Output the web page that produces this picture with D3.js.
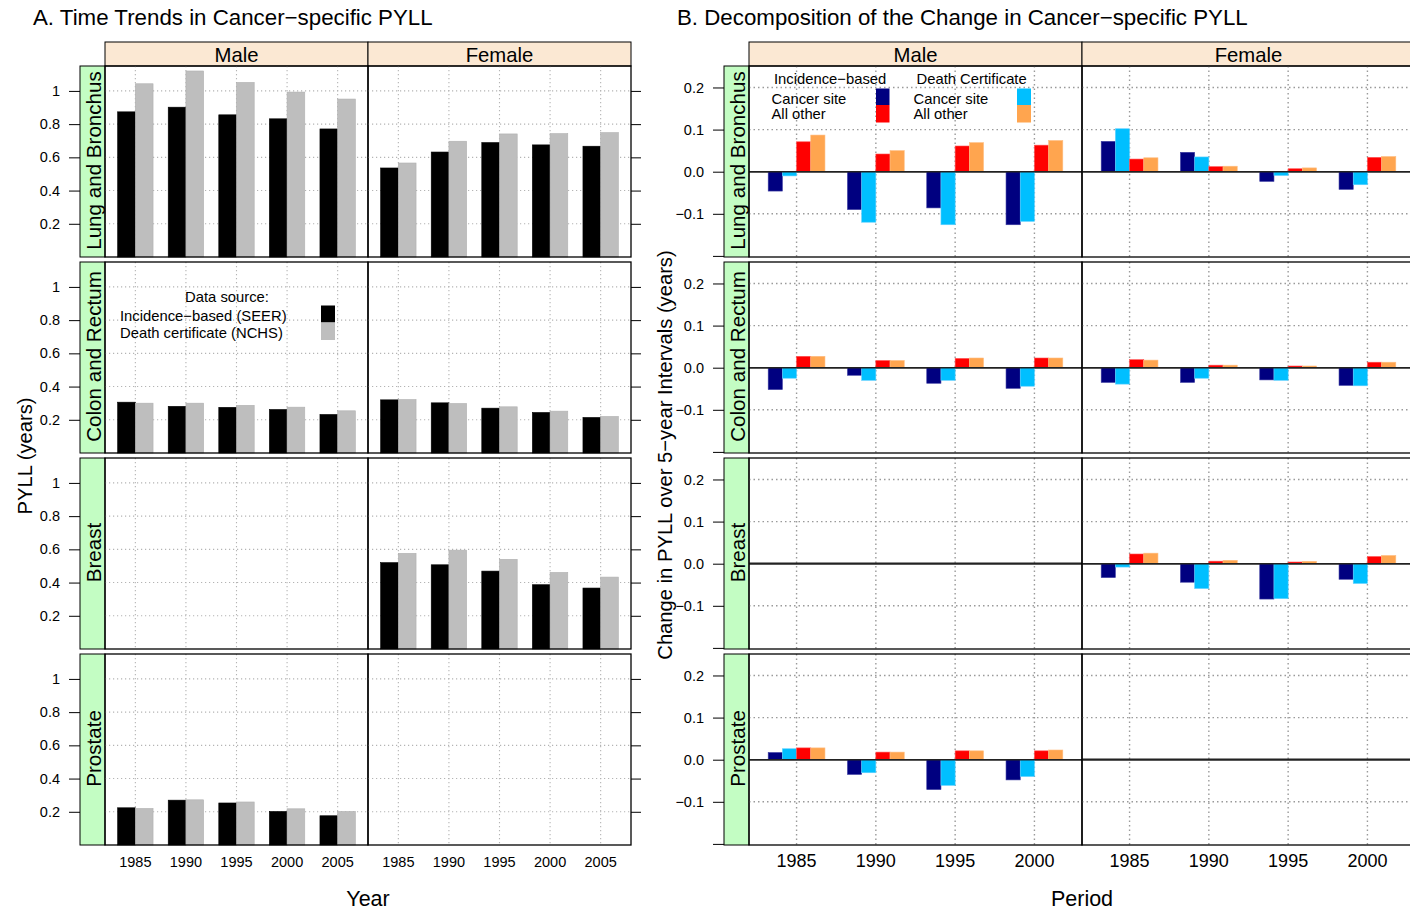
<!DOCTYPE html>
<html><head><meta charset="utf-8">
<script src="https://cdn.jsdelivr.net/npm/d3@7"></script>
<style>
html,body{margin:0;padding:0;background:#fff;}
svg{display:block;font-family:"Liberation Sans",Arial,Helvetica,sans-serif;}
</style></head>
<body><svg id="chart" width="1410" height="913"></svg>
<script>
// ---------------- DATA ----------------
const years = ["1985","1990","1995","2000","2005"];
const periods = ["1985","1990","1995","2000"];
const sites = ["Lung and Bronchus","Colon and Rectum","Breast","Prostate"];
const sexes = ["Male","Female"];
const yTicksA = [0.2,0.4,0.6,0.8,1.0];
const yTicksB = [-0.2,-0.1,0.0,0.1,0.2];
const yLabelsB = [-0.1,0.0,0.1,0.2];

// Panel A: PYLL (years), Incidence-based (SEER) and Death certificate (NCHS)
const seerLungMale   = [0.874,0.902,0.856,0.832,0.771];
const nchsLungMale   = [1.043,1.120,1.051,0.993,0.951];
const seerLungFemale = [0.536,0.632,0.689,0.675,0.667];
const nchsLungFemale = [0.566,0.697,0.741,0.743,0.749];
const seerColonMale   = [0.306,0.281,0.275,0.262,0.232];
const nchsColonMale   = [0.300,0.300,0.287,0.276,0.254];
const seerColonFemale = [0.320,0.302,0.270,0.244,0.214];
const nchsColonFemale = [0.322,0.298,0.278,0.252,0.220];
const seerBreastFemale = [0.520,0.507,0.469,0.387,0.367];
const nchsBreastFemale = [0.576,0.595,0.540,0.461,0.433];
const seerProstateMale = [0.224,0.270,0.253,0.202,0.176];
const nchsProstateMale = [0.220,0.272,0.259,0.218,0.202];

// Panel B: change in PYLL over 5-year intervals
// components: incidence-based cancer site / all other, death certificate cancer site / all other
const incSiteLungMale  = [-0.046,-0.090,-0.086,-0.126];
const dcSiteLungMale   = [-0.010,-0.120,-0.126,-0.118];
const incOtherLungMale = [0.071,0.042,0.061,0.063];
const dcOtherLungMale  = [0.087,0.050,0.069,0.074];
const incSiteLungFemale  = [0.072,0.046,-0.023,-0.042];
const dcSiteLungFemale   = [0.102,0.035,-0.009,-0.031];
const incOtherLungFemale = [0.030,0.012,0.007,0.034];
const dcOtherLungFemale  = [0.033,0.013,0.009,0.036];
const incSiteColonMale  = [-0.052,-0.018,-0.037,-0.049];
const dcSiteColonMale   = [-0.025,-0.030,-0.030,-0.044];
const incOtherColonMale = [0.027,0.017,0.022,0.023];
const dcOtherColonMale  = [0.027,0.017,0.023,0.023];
const incSiteColonFemale  = [-0.035,-0.035,-0.029,-0.042];
const dcSiteColonFemale   = [-0.039,-0.025,-0.030,-0.043];
const incOtherColonFemale = [0.019,0.006,0.004,0.013];
const dcOtherColonFemale  = [0.018,0.006,0.004,0.013];
const incSiteBreastFemale  = [-0.033,-0.044,-0.084,-0.037];
const dcSiteBreastFemale   = [-0.008,-0.059,-0.083,-0.047];
const incOtherBreastFemale = [0.023,0.006,0.004,0.017];
const dcOtherBreastFemale  = [0.025,0.008,0.0055,0.0195];
const incSiteProstateMale  = [0.017,-0.035,-0.071,-0.048];
const dcSiteProstateMale   = [0.026,-0.031,-0.061,-0.040];
const incOtherProstateMale = [0.028,0.018,0.021,0.021];
const dcOtherProstateMale  = [0.028,0.018,0.021,0.023];

// ---------------- TABLES ----------------
const tableA = {
  "Lung and Bronchus|Male":[seerLungMale,nchsLungMale],
  "Lung and Bronchus|Female":[seerLungFemale,nchsLungFemale],
  "Colon and Rectum|Male":[seerColonMale,nchsColonMale],
  "Colon and Rectum|Female":[seerColonFemale,nchsColonFemale],
  "Breast|Female":[seerBreastFemale,nchsBreastFemale],
  "Prostate|Male":[seerProstateMale,nchsProstateMale]
};
const tableB = {
  "Lung and Bronchus|Male":[incSiteLungMale,dcSiteLungMale,incOtherLungMale,dcOtherLungMale],
  "Lung and Bronchus|Female":[incSiteLungFemale,dcSiteLungFemale,incOtherLungFemale,dcOtherLungFemale],
  "Colon and Rectum|Male":[incSiteColonMale,dcSiteColonMale,incOtherColonMale,dcOtherColonMale],
  "Colon and Rectum|Female":[incSiteColonFemale,dcSiteColonFemale,incOtherColonFemale,dcOtherColonFemale],
  "Breast|Female":[incSiteBreastFemale,dcSiteBreastFemale,incOtherBreastFemale,dcOtherBreastFemale],
  "Prostate|Male":[incSiteProstateMale,dcSiteProstateMale,incOtherProstateMale,dcOtherProstateMale]
};
const colA = ["#000000","#bebebe"];
const colB = ["#000080","#00bfff","#ff0000","#ffa54f"];

// ---------------- LAYOUT ----------------
const svg = d3.select("#chart");
const FONT = '"Liberation Sans",Arial,Helvetica,sans-serif';
const rowTop = [66,262,458,654];
const rowH = 191;
const stripTopY = 42, stripTopH = 24;
const stripW = 25;

function drawPanelSet(cfg){
  const g = svg.append("g");
  const panelW = cfg.panelW;
  // top strips
  sexes.forEach((sx,j)=>{
    const x0 = cfg.x0 + j*panelW;
    g.append("rect").attr("x",x0).attr("y",stripTopY).attr("width",panelW).attr("height",stripTopH)
      .attr("fill","#fbe8d3").attr("stroke","#000").attr("stroke-width",1);
    g.append("text").attr("x",x0+panelW/2).attr("y",stripTopY+stripTopH/2+1).attr("dy","0.35em")
      .attr("text-anchor","middle").attr("font-size",20.3).attr("fill","#000").text(sx);
  });
  sites.forEach((site,i)=>{
    const y0 = rowTop[i], y1 = rowTop[i]+rowH;
    const y = d3.scaleLinear().domain(cfg.yDomain).range([y1,y0]);
    // left strip
    g.append("rect").attr("x",cfg.x0-stripW).attr("y",y0).attr("width",stripW).attr("height",rowH)
      .attr("fill","#c3fdc3").attr("stroke","#000").attr("stroke-width",1);
    g.append("text").attr("transform",`translate(${cfg.x0-stripW/2+1},${y0+rowH/2-1}) rotate(-90)`)
      .attr("dy","0.35em").attr("text-anchor","middle").attr("font-size",20.6).attr("fill","#000").text(site);
    // left axis
    const axL = d3.axisLeft(y).tickValues(cfg.yTicks).tickSize(11).tickPadding(9)
      .tickFormat(v => cfg.yLabels.some(l=>Math.abs(l-v)<1e-9) ? cfg.fmt(v) : "");
    const ag = g.append("g").attr("transform",`translate(${cfg.x0-stripW},0)`).call(axL);
    ag.select(".domain").remove();
    ag.selectAll("text").attr("font-size",cfg.tickFont).attr("font-family",FONT).attr("fill","#000");
    ag.selectAll("line").attr("stroke","#000");
    // right axis
    const axR = d3.axisRight(y).tickValues(cfg.yTicks).tickSize(10).tickFormat("");
    const ar = g.append("g").attr("transform",`translate(${cfg.x0+2*panelW},0)`).call(axR);
    ar.select(".domain").remove();
    ar.selectAll("line").attr("stroke","#000");

    sexes.forEach((sx,j)=>{
      const x0 = cfg.x0 + j*panelW, x1 = x0+panelW;
      const x = d3.scalePoint().domain(cfg.cats).range([x0,x1]).padding(0.6);
      const step = x.step();
      const pg = g.append("g");
      // grid
      pg.selectAll(".gv").data(cfg.cats).join("line")
        .attr("x1",d=>x(d)).attr("x2",d=>x(d)).attr("y1",y0).attr("y2",y1)
        .attr("stroke",cfg.gridCol).attr("stroke-width",cfg.gridW).attr("stroke-dasharray",cfg.dash);
      pg.selectAll(".gh").data(cfg.gridY).join("line")
        .attr("x1",x0).attr("x2",x1).attr("y1",d=>y(d)).attr("y2",d=>y(d))
        .attr("stroke",cfg.gridCol).attr("stroke-width",cfg.gridW).attr("stroke-dasharray",cfg.dash);
      const series = cfg.table[site+"|"+sx];
      const nS = cfg.colors.length;
      const bw = step*cfg.groupFrac/nS;
      if(cfg.zeroLine){
        pg.append("line").attr("x1",x0).attr("x2",x1).attr("y1",y(0)).attr("y2",y(0))
          .attr("stroke","#222").attr("stroke-width",series?1.4:2.2);
      }
      if(series){
        series.forEach((vals,s)=>{
          pg.selectAll(null).data(vals.map((v,k)=>({v,k}))).join("rect")
            .attr("x",d=>x(cfg.cats[d.k]) - step*cfg.groupFrac/2 + s*bw)
            .attr("width",bw)
            .attr("y",d=>Math.min(y(d.v),y(0)))
            .attr("height",d=>Math.abs(y(d.v)-y(0)))
            .attr("fill",cfg.colors[s])
            .attr("stroke",cfg.strokes[s]).attr("stroke-width",0.6);
        });
        if(cfg.zeroLine){
          pg.append("line").attr("x1",x0).attr("x2",x1).attr("y1",y(0)).attr("y2",y(0))
            .attr("stroke","#222").attr("stroke-width",1.4);
        }
      }
      pg.append("rect").attr("x",x0).attr("y",y0).attr("width",panelW).attr("height",rowH)
        .attr("fill","none").attr("stroke","#000").attr("stroke-width",1.3);
      // bottom tick labels
      if(i===sites.length-1){
        pg.selectAll(".xl").data(cfg.cats).join("text")
          .attr("x",d=>x(d)).attr("y",y1+cfg.xLabOff).attr("dy","0.35em")
          .attr("text-anchor","middle").attr("font-size",cfg.xFont).attr("fill","#000").text(d=>d);
      }
    });
  });
}

// Panel A
drawPanelSet({
  x0:105, panelW:263, cats:years, yDomain:[0,1.15], yTicks:yTicksA, yLabels:yTicksA,
  gridY:yTicksA, fmt:d3.format(".1~f"), tickFont:14.5, table:tableA, colors:colA,
  strokes:["#000","#b0b0b0"], groupFrac:0.70, zeroLine:false, xFont:14.5, xLabOff:17,
  gridCol:"#b4b4b4", gridW:1.1, dash:"1.2,2.8"
});
// Panel B
drawPanelSet({
  x0:749, panelW:333, cats:periods, yDomain:[-0.2026,0.251], yTicks:yTicksB, yLabels:yLabelsB,
  gridY:[-0.1,0.1,0.2], fmt:d3.format(".1f"), tickFont:14.5, table:tableB, colors:colB,
  strokes:["#3a3aa0","#60d0ff","#ff5050","#ffbd80"], groupFrac:0.716, zeroLine:true, xFont:18, xLabOff:16,
  gridCol:"#9a9a9a", gridW:1.4, dash:"1.5,3"
});

// ---------------- LEGENDS ----------------
const lA = svg.append("g").attr("font-size",14.8).attr("fill","#000");
lA.append("text").attr("x",227).attr("y",296.5).attr("dy","0.35em").attr("text-anchor","middle").text("Data source:");
lA.append("text").attr("x",120).attr("y",315.5).attr("dy","0.35em").text("Incidence\u2212based (SEER)");
lA.append("text").attr("x",120).attr("y",332.5).attr("dy","0.35em").text("Death certificate (NCHS)");
lA.append("rect").attr("x",321).attr("y",305.5).attr("width",14).attr("height",17).attr("fill",colA[0]);
lA.append("rect").attr("x",321).attr("y",322.5).attr("width",14).attr("height",17.5).attr("fill",colA[1]);

const lB = svg.append("g").attr("font-size",14.8).attr("fill","#000");
lB.append("text").attr("x",774).attr("y",78.5).attr("dy","0.35em").text("Incidence\u2212based");
lB.append("text").attr("x",771.5).attr("y",98.5).attr("dy","0.35em").text("Cancer site");
lB.append("text").attr("x",771.5).attr("y",114).attr("dy","0.35em").text("All other");
lB.append("rect").attr("x",876).attr("y",88.5).attr("width",13.5).attr("height",16.5).attr("fill",colB[0]);
lB.append("rect").attr("x",876).attr("y",105).attr("width",13.5).attr("height",17.5).attr("fill",colB[2]);
lB.append("text").attr("x",916.5).attr("y",78.5).attr("dy","0.35em").text("Death Certificate");
lB.append("text").attr("x",913.5).attr("y",98.5).attr("dy","0.35em").text("Cancer site");
lB.append("text").attr("x",913.5).attr("y",114).attr("dy","0.35em").text("All other");
lB.append("rect").attr("x",1017).attr("y",88.5).attr("width",14).attr("height",16.5).attr("fill",colB[1]);
lB.append("rect").attr("x",1017).attr("y",105).attr("width",14).attr("height",17.5).attr("fill",colB[3]);

// ---------------- TITLES ----------------
svg.append("text").attr("x",33).attr("y",17).attr("dy","0.35em").attr("font-size",22.3)
  .text("A. Time Trends in Cancer\u2212specific PYLL");
svg.append("text").attr("x",677).attr("y",17).attr("dy","0.35em").attr("font-size",22.3)
  .text("B. Decomposition of the Change in Cancer\u2212specific PYLL");
svg.append("text").attr("transform","translate(25,456) rotate(-90)").attr("dy","0.35em")
  .attr("text-anchor","middle").attr("font-size",20.2).text("PYLL (years)");
svg.append("text").attr("transform","translate(665,455) rotate(-90)").attr("dy","0.35em")
  .attr("text-anchor","middle").attr("font-size",20.2).text("Change in PYLL over 5\u2212year Intervals (years)");
svg.append("text").attr("x",368).attr("y",898).attr("dy","0.35em").attr("text-anchor","middle")
  .attr("font-size",21.5).text("Year");
svg.append("text").attr("x",1082).attr("y",898).attr("dy","0.35em").attr("text-anchor","middle")
  .attr("font-size",21.5).text("Period");
</script></body></html>
